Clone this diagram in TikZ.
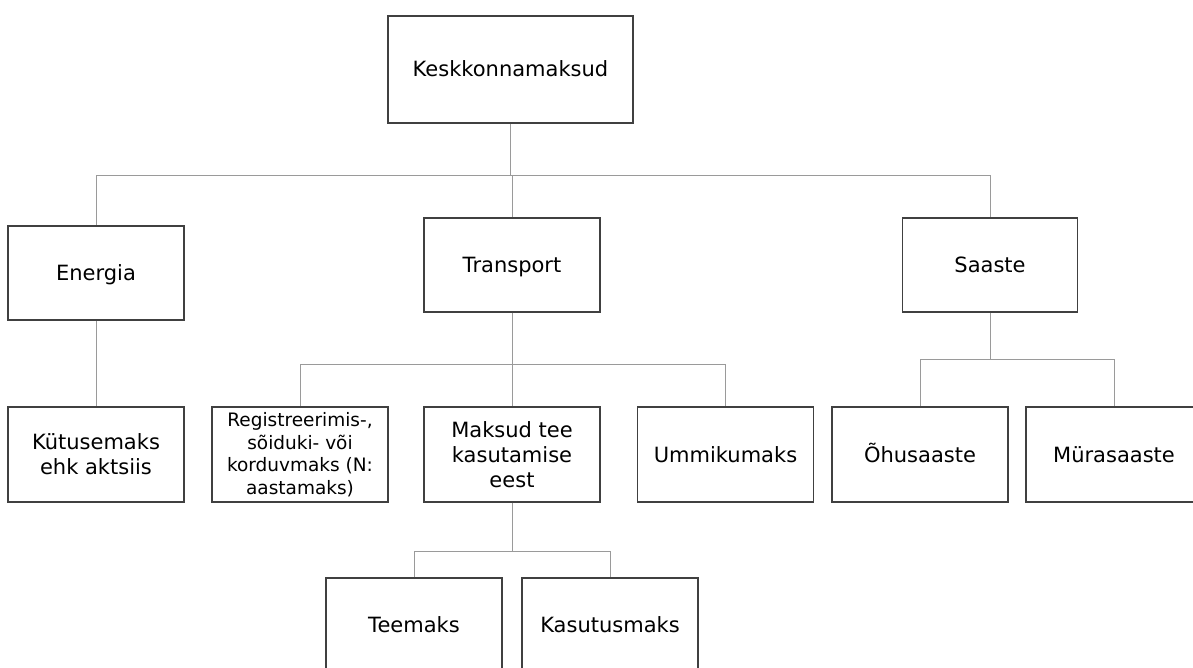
\documentclass[tikz,border=0pt]{standalone}
\usepackage{fontspec}
\setmainfont{DejaVu Sans}
\usepackage{tikz}
\definecolor{boxgray}{HTML}{404040}
\definecolor{linegray}{HTML}{9A9A9A}
\tikzstyle{tax}=[rectangle, draw=boxgray, line width=1.3pt, fill=white, minimum width=176pt, minimum height=94pt, inner sep=2pt, align=center, font=\fontsize{21}{25}\selectfont]
\tikzstyle{root}=[tax, minimum width=245pt, minimum height=107pt]
\tikzstyle{oneline}=[text height=15pt, text depth=0pt]
\tikzstyle{smalltext}=[font=\fontsize{18.5}{22.5}\selectfont]
\tikzstyle{link}=[-, draw=linegray, line width=1pt]

\begin{document}
\begin{tikzpicture}[x=1pt,y=-1pt]
				\useasboundingbox (0,0) rectangle (1193,668);
				\clip (0,0) rectangle (1193,668);
				
				%The top box
				\draw (510.5,69.5) node[root, oneline] (kesk) {Keskkonnamaksud};
				
				%The second row
				\draw (96,273) node[tax, oneline] (energia) {Energia};
				\draw (512,265) node[tax, oneline] (transport) {Transport};
				\draw (990,265) node[tax, oneline, minimum width=175pt] (saaste) {Saaste};
				
				%The third row
				\draw (96,454.5) node[tax, minimum height=95pt] (kytus) {Kütusemaks\\ehk aktsiis};
				\draw (300,454.5) node[tax, smalltext, minimum height=95pt] (reg) {Registreerimis-,\\sõiduki- või\\korduvmaks (N:\\aastamaks)};
				\draw (512,454.5) node[tax, minimum height=95pt] (maksud) {Maksud tee\\kasutamise\\eest};
				\draw (725.5,454.5) node[tax, oneline, minimum height=95pt] (ummik) {Ummikumaks};
				\draw (920,454.5) node[tax, oneline, minimum height=95pt] (ohu) {Õhusaaste};
				\draw (1114,454.5) node[tax, oneline, minimum height=95pt] (myra) {Mürasaaste};
				
				%The fourth row
				\draw (414,625) node[tax, oneline] (teemaks) {Teemaks};
				\draw (610,625) node[tax, oneline] (kasutus) {Kasutusmaks};
				
				%The branch points
				\coordinate (b1) at (510.5,176);
				\coordinate (b2) at (512,364);
				\coordinate (b3) at (990,359);
				\coordinate (b4) at (512,551);
				
				\draw[link] (kesk.south) -- (b1);
				\draw[link] (b1) -| (energia.north);
				\draw[link] (b1) -| (transport.north);
				\draw[link] (b1) -| (saaste.north);
				
				\draw[link] (energia.south) -- (kytus.north);
				
				\draw[link] (transport.south) -- (b2);
				\draw[link] (b2) -| (reg.north);
				\draw[link] (b2) -- (maksud.north);
				\draw[link] (b2) -| (ummik.north);
				
				\draw[link] (saaste.south) -- (b3);
				\draw[link] (b3) -| (ohu.north);
				\draw[link] (b3) -| (myra.north);
				
				\draw[link] (maksud.south) -- (b4);
				\draw[link] (b4) -| (teemaks.north);
				\draw[link] (b4) -| (kasutus.north);
			\end{tikzpicture}
\end{document}
